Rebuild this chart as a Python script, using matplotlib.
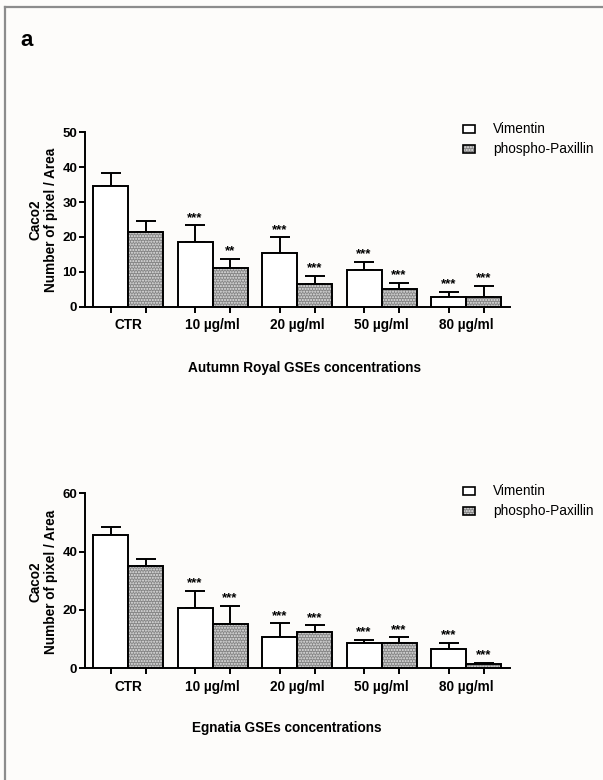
import matplotlib
matplotlib.use("Agg")
import matplotlib.pyplot as plt
from matplotlib.patches import Rectangle
from matplotlib.lines import Line2D
import numpy as np

plt.rcParams['font.family'] = ['Liberation Sans', 'DejaVu Sans']

categories = ["CTR", "10 \u00b5g/ml", "20 \u00b5g/ml", "50 \u00b5g/ml", "80 \u00b5g/ml"]
series_names = ["Vimentin", "phospho-Paxillin"]

# Autumn Royal
ar_vim = [34.7, 18.6, 15.3, 10.5, 2.9]
ar_vim_err = [3.7, 4.8, 4.6, 2.4, 1.3]
ar_pax = [21.5, 11.2, 6.5, 5.1, 2.9]
ar_pax_err = [3.1, 2.5, 2.3, 1.7, 3.1]
ar_vim_sig = ["", "***", "***", "***", "***"]
ar_pax_sig = ["", "**", "***", "***", "***"]

# Egnatia
eg_vim = [45.7, 20.6, 10.8, 8.6, 6.6]
eg_vim_err = [2.8, 6.0, 4.6, 1.1, 2.1]
eg_pax = [35.2, 15.2, 12.3, 8.7, 1.5]
eg_pax_err = [2.2, 6.2, 2.4, 1.9, 0.3]
eg_vim_sig = ["", "***", "***", "***", "***"]
eg_pax_sig = ["", "***", "***", "***", "***"]

W, H = 603, 780
fig = plt.figure(figsize=(W / 100, H / 100), dpi=100)
fig.patch.set_facecolor("#fdfcfa")

# panel frame (top and left edges)
fig.add_artist(Line2D([5 / W, 1], [1 - 7 / H, 1 - 7 / H], color="#8c8c8c", lw=1.6,
                      transform=fig.transFigure))
fig.add_artist(Line2D([5 / W, 5 / W], [0, 1 - 7 / H], color="#8c8c8c", lw=1.6,
                      transform=fig.transFigure))
fig.text(27 / W, 1 - 40 / H, "a", fontsize=16, fontweight="bold", ha="center", va="center")

BAR_W = 0.414
PAX_FACE = "#858585"
LBL = 9.8


def draw_panel(rect, vim, vim_err, pax, pax_err, vim_sig, pax_sig, ymax, ystep,
               xlabel, xlabel_x, xlabel_y, legend_y, ylabel_y):
    ax = fig.add_axes(rect)
    ax.set_facecolor("none")
    x = np.arange(len(categories))
    xv = x - BAR_W / 2
    xp = x + BAR_W / 2
    # Vimentin: open bars
    ax.bar(xv, vim, BAR_W, color="white", edgecolor="black", linewidth=1.4, zorder=3)
    # phospho-Paxillin: gray textured fill, then black outline
    ax.bar(xp, pax, BAR_W, color=PAX_FACE, edgecolor="#e6e6e6", linewidth=0,
           hatch="......", zorder=3)
    ax.bar(xp, pax, BAR_W, fill=False, edgecolor="black", linewidth=1.4, zorder=4)
    ax.errorbar(xv, vim, yerr=[np.zeros(len(vim)), vim_err], fmt="none", ecolor="black",
                elinewidth=1.4, capsize=7.5, capthick=1.4, zorder=2)
    ax.errorbar(xp, pax, yerr=[np.zeros(len(pax)), pax_err], fmt="none", ecolor="black",
                elinewidth=1.4, capsize=7.5, capthick=1.4, zorder=2)
    for xs, vals, errs, sigs in ((xv, vim, vim_err, vim_sig), (xp, pax, pax_err, pax_sig)):
        for xi, v, e, s in zip(xs, vals, errs, sigs):
            if s:
                ax.annotate(s, (xi, v + e), xytext=(0, 1.0), textcoords="offset points",
                            ha="center", va="bottom", fontsize=9.5, fontweight="bold")

    ax.set_xlim(-0.51, 4.52)
    ax.set_ylim(0, ymax)
    ax.set_yticks(np.arange(0, ymax + 1, ystep))
    ax.set_xticks(np.concatenate([xv, xp]))
    ax.set_xticklabels([])
    for sp in ("top", "right"):
        ax.spines[sp].set_visible(False)
    for sp in ("left", "bottom"):
        ax.spines[sp].set_linewidth(1.4)
    ax.tick_params(axis="both", direction="out", length=4, width=1.4, labelsize=9.5)
    for lab in ax.get_yticklabels():
        lab.set_fontweight("bold")
    ax.tick_params(axis="y", pad=1.5)

    # category labels under each group
    for xi, c in zip(x, categories):
        ax.annotate(c, (xi, 0), xytext=(0, -13.3), textcoords="offset points",
                    ha="center", va="center", fontsize=LBL, fontweight="bold",
                    annotation_clip=False)

    fig.text(xlabel_x / W, 1 - xlabel_y / H, xlabel, ha="center", va="center",
             fontsize=LBL, fontweight="bold")
    fig.text(43.5 / W, 1 - ylabel_y / H, "Caco2\nNumber of pixel / Area", rotation=90,
             ha="center", va="center", fontsize=LBL, fontweight="bold",
             multialignment="center", linespacing=1.1)

    # legend
    for i, name in enumerate(series_names):
        yc = legend_y + i * 20
        if i == 0:
            p = Rectangle((463 / W, 1 - (yc + 4) / H), 12 / W, 8 / H, facecolor="white",
                          edgecolor="black", linewidth=1.2, transform=fig.transFigure)
            fig.add_artist(p)
        else:
            p = Rectangle((463 / W, 1 - (yc + 4) / H), 12 / W, 8 / H, facecolor=PAX_FACE,
                          edgecolor="#e6e6e6", linewidth=0, hatch="......",
                          transform=fig.transFigure)
            fig.add_artist(p)
            p2 = Rectangle((463 / W, 1 - (yc + 4) / H), 12 / W, 8 / H, fill=False,
                           edgecolor="black", linewidth=1.2, transform=fig.transFigure)
            fig.add_artist(p2)
        fig.text(493 / W, 1 - yc / H, name, ha="left", va="center", fontsize=9.8)
    return ax


draw_panel([85 / W, 1 - 306.7 / H, 425 / W, 174.4 / H],
           ar_vim, ar_vim_err, ar_pax, ar_pax_err, ar_vim_sig, ar_pax_sig, 50, 10,
           "Autumn Royal GSEs concentrations", 304, 368, 129, 220)
draw_panel([85 / W, 1 - 668.3 / H, 425 / W, 175 / H],
           eg_vim, eg_vim_err, eg_pax, eg_pax_err, eg_vim_sig, eg_pax_sig, 60, 20,
           "Egnatia GSEs concentrations", 287, 728, 491, 582)

fig.savefig("out.png", dpi=100, facecolor=fig.get_facecolor())
